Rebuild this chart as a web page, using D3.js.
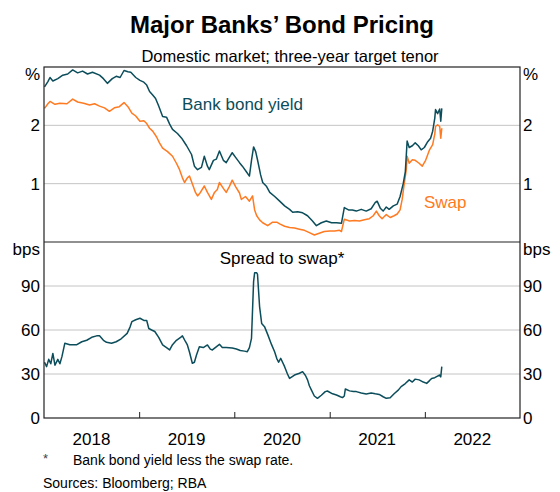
<!DOCTYPE html>
<html>
<head>
<meta charset="utf-8">
<script src="https://cdn.jsdelivr.net/npm/d3@7"></script>
<style>
  body { margin: 0; background: #fff; }
  text { font-family: "Liberation Sans", Arial, sans-serif; }
</style>
</head>
<body>
<svg id="chart" width="560" height="492"></svg>
<script>
// ---- data ----
var bondYield = [
  ["2018-01-03", 2.66], ["2018-01-16", 2.75], ["2018-01-24", 2.82], ["2018-02-04", 2.76], ["2018-02-23", 2.80],
  ["2018-03-14", 2.86], ["2018-04-02", 2.88], ["2018-04-21", 2.95], ["2018-05-10", 2.90], ["2018-05-29", 2.93],
  ["2018-06-17", 2.88], ["2018-07-06", 2.91], ["2018-08-02", 2.86], ["2018-08-17", 2.80], ["2018-09-01", 2.72],
  ["2018-09-20", 2.80], ["2018-10-05", 2.84], ["2018-10-20", 2.82], ["2018-11-04", 2.94], ["2018-11-19", 2.92],
  ["2018-11-30", 2.91], ["2018-12-19", 2.82], ["2019-01-04", 2.77], ["2019-01-19", 2.74], ["2019-01-30", 2.69],
  ["2019-02-10", 2.58], ["2019-02-22", 2.52], ["2019-03-05", 2.46], ["2019-03-17", 2.33], ["2019-04-01", 2.15],
  ["2019-04-16", 2.14], ["2019-04-28", 2.02], ["2019-05-09", 1.93], ["2019-05-28", 1.86], ["2019-06-13", 1.78],
  ["2019-07-02", 1.65], ["2019-07-21", 1.50], ["2019-08-01", 1.30], ["2019-08-13", 1.24], ["2019-08-28", 1.28],
  ["2019-09-08", 1.47], ["2019-09-20", 1.30], ["2019-09-27", 1.24], ["2019-10-13", 1.40], ["2019-10-24", 1.42],
  ["2019-11-05", 1.56], ["2019-11-20", 1.40], ["2019-12-01", 1.36], ["2019-12-13", 1.45], ["2019-12-24", 1.53],
  ["2020-01-06", 1.45], ["2020-01-21", 1.36], ["2020-02-01", 1.30], ["2020-02-17", 1.20], ["2020-02-28", 1.13],
  ["2020-03-07", 1.40], ["2020-03-15", 1.63], ["2020-03-23", 1.55], ["2020-03-30", 1.41], ["2020-04-11", 1.15],
  ["2020-04-19", 1.02], ["2020-05-04", 0.95], ["2020-05-16", 0.85], ["2020-06-04", 0.78], ["2020-06-23", 0.70],
  ["2020-07-12", 0.62], ["2020-07-31", 0.56], ["2020-08-12", 0.51], ["2020-08-31", 0.52], ["2020-09-19", 0.50],
  ["2020-10-08", 0.45], ["2020-10-27", 0.36], ["2020-11-11", 0.28], ["2020-11-30", 0.33], ["2020-12-19", 0.36],
  ["2021-01-08", 0.33], ["2021-01-27", 0.33], ["2021-02-15", 0.32], ["2021-02-26", 0.59], ["2021-03-14", 0.55],
  ["2021-03-29", 0.55], ["2021-04-13", 0.53], ["2021-05-02", 0.56], ["2021-05-21", 0.53], ["2021-06-09", 0.57],
  ["2021-06-25", 0.68], ["2021-07-02", 0.70], ["2021-07-14", 0.58], ["2021-07-25", 0.53], ["2021-08-06", 0.60],
  ["2021-08-17", 0.56], ["2021-09-02", 0.62], ["2021-09-17", 0.65], ["2021-09-28", 0.78], ["2021-10-10", 1.00],
  ["2021-10-18", 1.20], ["2021-10-25", 1.73], ["2021-11-02", 1.62], ["2021-11-14", 1.65], ["2021-11-25", 1.70],
  ["2021-12-07", 1.65], ["2021-12-18", 1.58], ["2021-12-30", 1.62], ["2022-01-12", 1.72], ["2022-01-23", 1.78],
  ["2022-01-31", 1.90], ["2022-02-08", 2.12], ["2022-02-11", 2.27], ["2022-02-19", 2.20], ["2022-02-27", 2.28],
  ["2022-03-03", 2.07], ["2022-03-07", 2.29]
];

var swapRate = [
  ["2018-01-03", 2.29], ["2018-01-16", 2.37], ["2018-01-24", 2.41], ["2018-02-12", 2.36], ["2018-03-03", 2.38],
  ["2018-03-30", 2.37], ["2018-04-21", 2.45], ["2018-05-10", 2.40], ["2018-06-02", 2.38], ["2018-06-25", 2.35],
  ["2018-07-14", 2.37], ["2018-08-02", 2.33], ["2018-08-21", 2.30], ["2018-09-09", 2.24], ["2018-09-28", 2.30],
  ["2018-10-17", 2.32], ["2018-11-04", 2.39], ["2018-11-19", 2.32], ["2018-12-04", 2.21], ["2018-12-19", 2.16],
  ["2019-01-04", 2.07], ["2019-01-19", 2.08], ["2019-01-30", 2.03], ["2019-02-10", 1.95], ["2019-02-22", 1.90],
  ["2019-03-09", 1.80], ["2019-03-20", 1.70], ["2019-04-01", 1.61], ["2019-04-20", 1.55], ["2019-05-09", 1.47],
  ["2019-05-24", 1.35], ["2019-06-05", 1.24], ["2019-06-16", 1.10], ["2019-06-24", 1.02], ["2019-07-05", 1.10],
  ["2019-07-13", 1.13], ["2019-07-24", 1.00], ["2019-08-05", 0.85], ["2019-08-13", 0.79], ["2019-08-24", 0.85],
  ["2019-09-08", 0.96], ["2019-09-20", 0.85], ["2019-10-05", 0.73], ["2019-10-17", 0.85], ["2019-10-28", 0.90],
  ["2019-11-05", 1.02], ["2019-11-20", 0.92], ["2019-12-01", 0.85], ["2019-12-13", 0.95], ["2019-12-24", 1.06],
  ["2020-01-06", 0.95], ["2020-01-21", 0.84], ["2020-01-28", 0.73], ["2020-02-13", 0.78], ["2020-02-28", 0.70],
  ["2020-03-11", 0.79], ["2020-03-19", 0.55], ["2020-03-27", 0.45], ["2020-04-07", 0.38], ["2020-04-19", 0.33],
  ["2020-05-08", 0.28], ["2020-05-27", 0.34], ["2020-06-12", 0.34], ["2020-06-23", 0.31], ["2020-07-12", 0.27],
  ["2020-07-31", 0.25], ["2020-08-19", 0.24], ["2020-09-07", 0.22], ["2020-09-26", 0.20], ["2020-10-15", 0.16],
  ["2020-11-03", 0.12], ["2020-11-22", 0.15], ["2020-12-11", 0.18], ["2021-01-01", 0.19], ["2021-01-20", 0.19],
  ["2021-02-08", 0.20], ["2021-02-15", 0.18], ["2021-02-26", 0.39], ["2021-03-18", 0.36], ["2021-04-06", 0.37],
  ["2021-04-25", 0.36], ["2021-05-14", 0.38], ["2021-06-02", 0.40], ["2021-06-17", 0.45], ["2021-06-29", 0.53],
  ["2021-07-10", 0.45], ["2021-07-21", 0.40], ["2021-08-06", 0.47], ["2021-08-21", 0.42], ["2021-09-05", 0.45],
  ["2021-09-17", 0.48], ["2021-09-28", 0.55], ["2021-10-06", 0.73], ["2021-10-14", 1.00], ["2021-10-22", 1.25],
  ["2021-10-25", 1.47], ["2021-11-02", 1.35], ["2021-11-14", 1.41], ["2021-11-25", 1.40], ["2021-12-10", 1.35],
  ["2021-12-22", 1.30], ["2022-01-04", 1.40], ["2022-01-19", 1.58], ["2022-01-31", 1.67], ["2022-02-08", 1.85],
  ["2022-02-11", 1.98], ["2022-02-19", 2.01], ["2022-02-27", 1.98], ["2022-03-03", 1.78], ["2022-03-07", 1.95]
];

var spread = [
  ["2018-01-03", 38], ["2018-01-11", 35], ["2018-01-19", 40], ["2018-01-27", 37], ["2018-02-04", 44],
  ["2018-02-12", 36], ["2018-02-23", 40], ["2018-03-03", 37], ["2018-03-11", 42], ["2018-03-22", 51],
  ["2018-04-10", 50], ["2018-05-07", 50], ["2018-05-26", 52], ["2018-06-14", 53], ["2018-07-03", 55],
  ["2018-07-22", 56], ["2018-08-02", 56], ["2018-08-17", 53], ["2018-08-29", 51.6], ["2018-09-17", 51],
  ["2018-10-05", 52], ["2018-10-24", 54], ["2018-11-16", 57.7], ["2018-11-27", 62], ["2018-12-04", 65.7],
  ["2018-12-19", 67], ["2019-01-04", 68], ["2019-01-19", 66.5], ["2019-01-30", 66.5], ["2019-02-07", 61],
  ["2019-02-18", 60], ["2019-03-02", 59], ["2019-03-17", 55], ["2019-04-01", 49.8], ["2019-04-16", 48],
  ["2019-04-28", 46.4], ["2019-05-09", 50], ["2019-05-24", 53], ["2019-06-09", 55], ["2019-06-16", 56],
  ["2019-06-28", 52], ["2019-07-05", 49.8], ["2019-07-13", 45], ["2019-07-24", 37.3], ["2019-08-01", 38],
  ["2019-08-09", 43], ["2019-08-20", 48.6], ["2019-09-04", 48], ["2019-09-20", 49.8], ["2019-10-01", 47],
  ["2019-10-09", 46.4], ["2019-10-20", 48], ["2019-11-05", 50.2], ["2019-11-16", 48], ["2019-12-01", 48],
  ["2019-12-24", 47.7], ["2020-01-09", 47], ["2020-01-24", 46], ["2020-02-09", 45.6], ["2020-02-20", 45.2],
  ["2020-02-28", 48], ["2020-03-07", 54.3], ["2020-03-15", 93], ["2020-03-19", 99], ["2020-03-27", 99],
  ["2020-03-30", 98], ["2020-04-07", 76], ["2020-04-15", 64.5], ["2020-04-26", 62.3], ["2020-05-08", 57],
  ["2020-05-23", 50], ["2020-06-04", 45], ["2020-06-12", 40.5], ["2020-06-19", 38], ["2020-06-27", 40.7],
  ["2020-07-12", 35], ["2020-07-23", 30], ["2020-07-31", 27], ["2020-08-19", 29.3], ["2020-09-07", 30.5],
  ["2020-09-19", 31.6], ["2020-09-30", 29], ["2020-10-08", 26], ["2020-10-15", 22], ["2020-10-23", 19],
  ["2020-11-03", 15], ["2020-11-15", 13.4], ["2020-11-30", 15.5], ["2020-12-15", 18], ["2020-12-23", 18.4],
  ["2021-01-12", 16.5], ["2021-01-27", 15.7], ["2021-02-11", 14.5], ["2021-02-19", 13.9], ["2021-02-26", 15],
  ["2021-03-02", 19.8], ["2021-03-18", 18.5], ["2021-04-02", 18], ["2021-04-13", 18], ["2021-05-02", 17],
  ["2021-05-21", 16.4], ["2021-06-09", 17], ["2021-06-25", 16.5], ["2021-07-10", 16.1], ["2021-07-25", 14.5],
  ["2021-08-06", 13.4], ["2021-08-21", 13.8], ["2021-09-05", 16.5], ["2021-09-21", 19], ["2021-10-02", 21.4],
  ["2021-10-18", 23.5], ["2021-11-02", 26], ["2021-11-14", 24.5], ["2021-11-25", 26.5], ["2021-12-10", 26],
  ["2021-12-26", 24.5], ["2022-01-08", 23.6], ["2022-01-19", 25.5], ["2022-01-27", 27], ["2022-02-08", 27.5],
  ["2022-02-15", 28.2], ["2022-02-27", 29.3], ["2022-03-03", 28], ["2022-03-07", 35]
];

var years = [2018, 2019, 2020, 2021, 2022];
var topTicks = [1, 2];
var bottomTicks = [0, 30, 60, 90];

// ---- layout ----
var svg = d3.select("#chart");
var left = 44, right = 520;
var topY0 = 67, topY1 = 242, botY0 = 242, botY1 = 418;
var teal = "#0b4d5b", orange = "#ff7a21", grid = "#c4c4c4";
var labelSize = "17px";

var parseTime = d3.timeParse("%Y-%m-%d");
[bondYield, swapRate, spread].forEach(function (s) {
    s.forEach(function (d) { d.date = parseTime(d[0]); d.value = +d[1]; });
});

var x = d3.scaleTime()
    .domain([new Date(2018, 0, 1), new Date(2023, 0, 1)])
    .range([left, right]);
var yTop = d3.scaleLinear().domain([0, 3]).range([topY1, topY0]);
var yBot = d3.scaleLinear().domain([0, 120]).range([botY1, botY0]);

// titles
svg.append("text")
    .attr("x", 282).attr("y", 33)
    .attr("text-anchor", "middle")
    .style("font-size", "24px").style("font-weight", "bold")
    .text("Major Banks’ Bond Pricing");
svg.append("text")
    .attr("x", 290).attr("y", 62)
    .attr("text-anchor", "middle")
    .style("font-size", "16.5px")
    .text("Domestic market; three-year target tenor");

// gridlines
svg.selectAll(".gtop").data(topTicks).enter().append("line")
    .attr("x1", left).attr("x2", right)
    .attr("y1", function (d) { return yTop(d); })
    .attr("y2", function (d) { return yTop(d); })
    .attr("stroke", grid).attr("stroke-width", 1);
svg.selectAll(".gbot").data(bottomTicks.slice(1)).enter().append("line")
    .attr("x1", left).attr("x2", right)
    .attr("y1", function (d) { return yBot(d); })
    .attr("y2", function (d) { return yBot(d); })
    .attr("stroke", grid).attr("stroke-width", 1);

// y axis labels, both sides
function yLabels(ticks, scale, unit, y0) {
    [[left - 4, "end"], [right + 3, "start"]].forEach(function (side) {
        svg.selectAll(null).data(ticks).enter().append("text")
            .attr("x", side[0])
            .attr("y", function (d) { return scale(d) + 6; })
            .attr("text-anchor", side[1])
            .style("font-size", labelSize)
            .text(function (d) { return d; });
        svg.append("text")
            .attr("x", side[0]).attr("y", y0 + 13)
            .attr("text-anchor", side[1])
            .style("font-size", labelSize)
            .text(unit);
    });
}
yLabels(topTicks, yTop, "%", topY0);
yLabels(bottomTicks, yBot, "bps", botY0);

// lines
var lineTop = d3.line().x(function (d) { return x(d.date); }).y(function (d) { return yTop(d.value); });
var lineBot = d3.line().x(function (d) { return x(d.date); }).y(function (d) { return yBot(d.value); });

svg.append("path").datum(swapRate)
    .attr("d", lineTop).attr("fill", "none")
    .attr("stroke", orange).attr("stroke-width", 1.5).attr("stroke-linejoin", "round");
svg.append("path").datum(bondYield)
    .attr("d", lineTop).attr("fill", "none")
    .attr("stroke", teal).attr("stroke-width", 1.5).attr("stroke-linejoin", "round");
svg.append("path").datum(spread)
    .attr("d", lineBot).attr("fill", "none")
    .attr("stroke", teal).attr("stroke-width", 1.5).attr("stroke-linejoin", "round");

// series labels
svg.append("text").attr("x", 182).attr("y", 110)
    .style("font-size", labelSize).attr("fill", teal).text("Bank bond yield");
svg.append("text").attr("x", 424).attr("y", 208)
    .style("font-size", labelSize).attr("fill", orange).text("Swap");
svg.append("text").attr("x", 282).attr("y", 264)
    .attr("text-anchor", "middle")
    .style("font-size", labelSize).text("Spread to swap*");

// x axis: year ticks inside the bottom panel, labels mid-year
svg.append("g")
    .attr("transform", "translate(0," + botY1 + ")")
    .call(d3.axisBottom(x)
        .tickValues(years.slice(1).map(function (y) { return new Date(y, 0, 1); }))
        .tickSize(-6)
        .tickFormat(""))
    .call(function (g) { g.select(".domain").remove(); })
    .selectAll("line").attr("stroke", "#222");

svg.selectAll(".xl").data(years).enter().append("text")
    .attr("x", function (d) { return x(new Date(d, 6, 2)); })
    .attr("y", 445)
    .attr("text-anchor", "middle")
    .style("font-size", labelSize)
    .text(function (d) { return d; });

// frames
svg.append("rect")
    .attr("x", left).attr("y", topY0)
    .attr("width", right - left).attr("height", botY1 - topY0)
    .attr("fill", "none").attr("stroke", "#222").attr("stroke-width", 1.2);
svg.append("line")
    .attr("x1", left).attr("x2", right).attr("y1", botY0).attr("y2", botY0)
    .attr("stroke", "#222").attr("stroke-width", 1.2);

// footnotes
svg.append("text").attr("x", 43).attr("y", 463)
    .style("font-size", "13px").attr("fill", "#444").text("*");
svg.append("text").attr("x", 73).attr("y", 465)
    .style("font-size", "14px").text("Bank bond yield less the swap rate.");
svg.append("text").attr("x", 43).attr("y", 488)
    .style("font-size", "14px").text("Sources: Bloomberg; RBA");
</script>
</body>
</html>
